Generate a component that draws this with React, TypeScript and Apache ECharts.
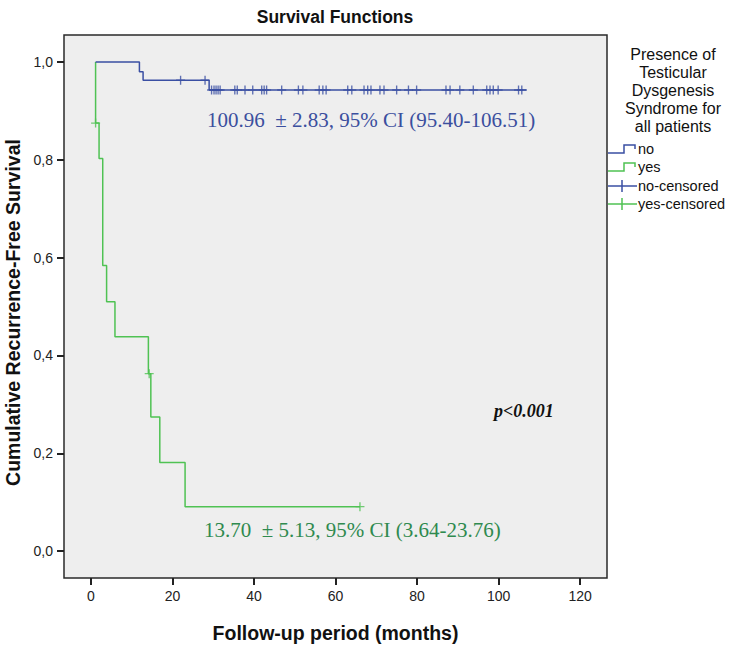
import React, { useEffect, useRef } from 'react';
import * as echarts from 'echarts';

// Axis ticks
const xTicks = [0, 20, 40, 60, 80, 100, 120];
const yTicks = [0, 0.2, 0.4, 0.6, 0.8, 1.0];

// Kaplan-Meier curve "no" (event times and survival after the event)
const noTimes = [1.15, 11.9, 12.8, 29.0, 106.9];
const noSurv = [1.0, 0.98, 0.9625, 0.9426, 0.9426];

// Kaplan-Meier curve "yes"
const yesTimes = [1.15, 1.15, 2.0, 2.9, 3.85, 5.9, 14.1, 14.7, 16.9, 23.1, 66.0];
const yesSurv = [1.0, 0.875, 0.8027, 0.584, 0.5096, 0.438, 0.3627, 0.274, 0.181, 0.0908, 0.0908];

// Censored observations "no"
const noCensTimes = [
  22.0, 28.0, 29.6, 30.2, 30.7, 31.2, 31.7, 35.3, 35.9, 37.8, 39.7, 41.9, 42.5, 43.1,
  46.8, 50.9, 52.0, 56.0, 56.9, 57.7, 63.0, 64.0, 67.0, 67.9, 68.7, 70.9, 71.9, 75.0,
  77.9, 79.9, 87.1, 88.1, 90.5, 93.8, 97.1, 97.9, 98.7, 99.9, 104.9, 105.7,
];
const noCensSurv = [
  0.9625, 0.9625, 0.9426, 0.9426, 0.9426, 0.9426, 0.9426, 0.9426, 0.9426, 0.9426, 0.9426, 0.9426, 0.9426, 0.9426,
  0.9426, 0.9426, 0.9426, 0.9426, 0.9426, 0.9426, 0.9426, 0.9426, 0.9426, 0.9426, 0.9426, 0.9426, 0.9426, 0.9426,
  0.9426, 0.9426, 0.9426, 0.9426, 0.9426, 0.9426, 0.9426, 0.9426, 0.9426, 0.9426, 0.9426, 0.9426,
];

// Censored observations "yes"
const yesCensTimes = [1.15, 14.3, 66.0];
const yesCensSurv = [0.875, 0.3627, 0.0908];

const legendLabels = ['no', 'yes', 'no-censored', 'yes-censored'];
const legendTitle = 'Presence of\nTesticular\nDysgenesis\nSyndrome for\nall patients';
const noText = '100.96  \u00B1 2.83, 95% CI (95.40-106.51)';
const yesText = '13.70  \u00B1 5.13, 95% CI (3.64-23.76)';
const pText = 'p<0.001';

const BLUE = '#3a4fa3';
const GREEN = '#4fc253';
const BLUE_TEXT = '#3b4f9e';
const GREEN_TEXT = '#2f8a4f';
const SANS = "Arial, 'Liberation Sans', sans-serif";
const SERIF = "'Times New Roman', 'Liberation Serif', serif";
const PLUS = 'path://M-0.6,-4 L0.6,-4 L0.6,-0.6 L4,-0.6 L4,0.6 L0.6,0.6 L0.6,4 L-0.6,4 L-0.6,0.6 L-4,0.6 L-4,-0.6 L-0.6,-0.6 Z';

const zip = (a: number[], b: number[]) => a.map((v, i) => [v, b[i]]);
const fmtY = (v: number) => v.toFixed(1).replace('.', ',');

export default function App() {
  const ref = useRef<HTMLDivElement>(null);
  useEffect(() => {
    if (!ref.current) return;
    const chart = echarts.init(ref.current, null, { renderer: 'svg' });
    const legendY = [149, 167, 186, 204];
    const lx = 608;
    const legendGraphics: any[] = [];
    [BLUE, GREEN].forEach((c, i) => {
      const y = legendY[i];
      legendGraphics.push({
        type: 'polyline',
        shape: { points: [[lx, y + 4], [lx + 16, y + 4], [lx + 16, y - 4], [lx + 27, y - 4], [lx + 27, y]] },
        style: { stroke: c, lineWidth: 1.5, fill: null },
      });
    });
    [BLUE, GREEN].forEach((c, i) => {
      const y = legendY[i + 2];
      legendGraphics.push({
        type: 'line', shape: { x1: lx, y1: y, x2: lx + 29, y2: y }, style: { stroke: c, lineWidth: 1.5 },
      });
      legendGraphics.push({
        type: 'line', shape: { x1: lx + 14, y1: y - 6, x2: lx + 14, y2: y + 6 }, style: { stroke: c, lineWidth: 1.5 },
      });
    });
    legendLabels.forEach((t, i) => {
      legendGraphics.push({
        type: 'text', x: lx + 30, y: legendY[i],
        style: { text: t, font: `14.5px ${SANS}`, fill: '#111', verticalAlign: 'middle', align: 'left' },
      });
    });

    chart.setOption({
      animation: false,
      backgroundColor: '#ffffff',
      grid: {
        left: 64, top: 35, right: 126, bottom: 71,
        containLabel: false, outerBoundsMode: 'none',
        show: true, backgroundColor: '#eeeeee', borderColor: '#2a2a2a', borderWidth: 1.5,
      },
      xAxis: {
        type: 'value', min: -6.6, max: 126.6,
        name: 'Follow-up period (months)', nameLocation: 'middle', nameGap: 45,
        nameTextStyle: { fontFamily: SANS, fontWeight: 'bold', fontSize: 19.5, color: '#111' },
        axisLine: { show: false, onZero: false },
        axisTick: { show: true, inside: false, length: 7, lineStyle: { color: '#222', width: 2 }, customValues: xTicks },
        axisLabel: { color: '#222', fontFamily: SANS, fontSize: 14, margin: 11, customValues: xTicks, formatter: (v: number) => String(v) },
        splitLine: { show: false },
      },
      yAxis: {
        type: 'value', min: -0.055, max: 1.055,
        name: 'Cumulative Recurrence-Free Survival', nameLocation: 'middle', nameGap: 39,
        nameTextStyle: { fontFamily: SANS, fontWeight: 'bold', fontSize: 19.5, color: '#111', padding: [0, 12, 0, 0] },
        axisLine: { show: false, onZero: false },
        axisTick: { show: true, inside: false, length: 7, lineStyle: { color: '#222', width: 2 }, customValues: yTicks },
        axisLabel: { color: '#222', fontFamily: SANS, fontSize: 14, margin: 11, customValues: yTicks, formatter: fmtY },
        splitLine: { show: false },
      },
      series: [
        {
          name: 'no', type: 'line', step: 'end', data: zip(noTimes, noSurv),
          showSymbol: false, lineStyle: { color: BLUE, width: 1.5 }, itemStyle: { color: BLUE }, z: 3,
        },
        {
          name: 'yes', type: 'line', step: 'end', data: zip(yesTimes, yesSurv),
          showSymbol: false, lineStyle: { color: GREEN, width: 1.5 }, itemStyle: { color: GREEN }, z: 2,
        },
        {
          name: 'no-censored', type: 'scatter', data: zip(noCensTimes, noCensSurv),
          symbol: PLUS, symbolSize: 9, itemStyle: { color: BLUE }, z: 4,
        },
        {
          name: 'yes-censored', type: 'scatter', data: zip(yesCensTimes, yesCensSurv),
          symbol: PLUS, symbolSize: 9, itemStyle: { color: GREEN }, z: 4,
        },
      ],
      graphic: [
        {
          type: 'text', x: 335, y: 17,
          style: { text: 'Survival Functions', font: `bold 17.5px ${SANS}`, fill: '#111', align: 'center', verticalAlign: 'middle' },
        },
        {
          type: 'text', x: 673, y: 90,
          style: { text: legendTitle, font: `16px ${SANS}`, fill: '#111', align: 'center', verticalAlign: 'middle', lineHeight: 18 },
        },
        {
          type: 'text', x: 207, y: 120,
          style: { text: noText, font: `21px ${SERIF}`, fill: BLUE_TEXT, align: 'left', verticalAlign: 'middle' },
        },
        {
          type: 'text', x: 204, y: 530,
          style: { text: yesText, font: `21px ${SERIF}`, fill: GREEN_TEXT, align: 'left', verticalAlign: 'middle' },
        },
        {
          type: 'text', x: 494, y: 411,
          style: { text: pText, font: `italic bold 18px ${SERIF}`, fill: '#111', align: 'left', verticalAlign: 'middle' },
        },
        ...legendGraphics,
      ],
    });
    return () => chart.dispose();
  }, []);
  return <div ref={ref} style={{ position: 'fixed', left: 0, top: 0, width: 733, height: 649 }} />;
}
